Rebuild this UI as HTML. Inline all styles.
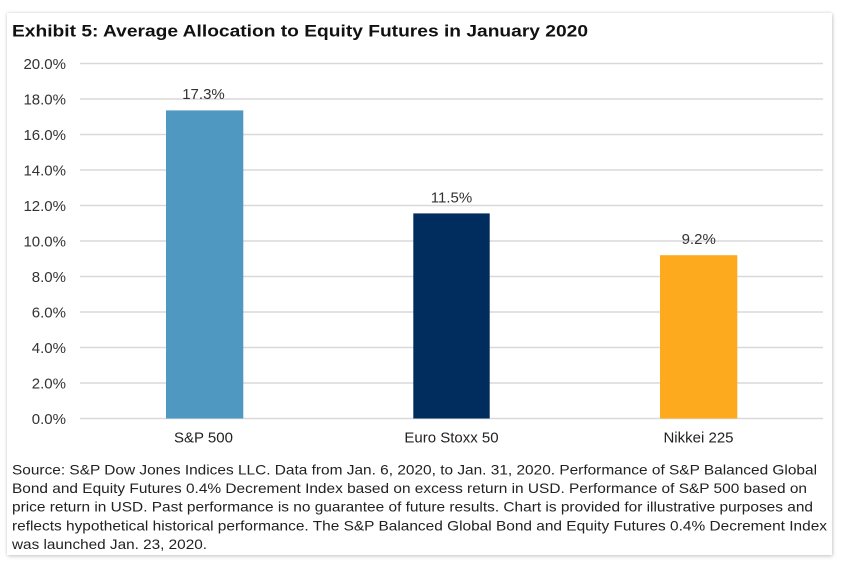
<!DOCTYPE html>
<html>
<head>
<meta charset="utf-8">
<style>
  html,body{margin:0;padding:0;background:#ffffff;}
  body{width:843px;height:568px;overflow:hidden;position:relative;}
  .card{position:absolute;left:7px;top:13px;width:825px;height:542px;background:#fff;
        box-shadow:0 0 3px rgba(0,0,0,0.18), 1px 2px 4px rgba(0,0,0,0.12);}
  svg{position:absolute;left:0;top:0;}
  text{font-family:"Liberation Sans", Arial, sans-serif;}
</style>
</head>
<body>
<div class="card"></div>
<svg width="843" height="568" viewBox="0 0 843 568" xmlns="http://www.w3.org/2000/svg">
  <!-- title -->
  <text x="12" y="36.5" font-size="16.5" font-weight="bold" fill="#111" textLength="576" lengthAdjust="spacingAndGlyphs">Exhibit 5: Average Allocation to Equity Futures in January 2020</text>

  <!-- gridlines -->
  <g stroke="#d9d9d9" stroke-width="1.4">
    <line x1="80" x2="823" y1="63.5" y2="63.5"/>
    <line x1="80" x2="823" y1="99" y2="99"/>
    <line x1="80" x2="823" y1="134.5" y2="134.5"/>
    <line x1="80" x2="823" y1="170" y2="170"/>
    <line x1="80" x2="823" y1="205.5" y2="205.5"/>
    <line x1="80" x2="823" y1="241" y2="241"/>
    <line x1="80" x2="823" y1="276.5" y2="276.5"/>
    <line x1="80" x2="823" y1="312" y2="312"/>
    <line x1="80" x2="823" y1="347.5" y2="347.5"/>
    <line x1="80" x2="823" y1="383" y2="383"/>
    <line x1="80" x2="823" y1="418.5" y2="418.5"/>
  </g>

  <!-- y tick labels -->
  <g font-size="15" fill="#333" text-anchor="end">
    <text x="66" y="69">20.0%</text>
    <text x="66" y="104.5">18.0%</text>
    <text x="66" y="140">16.0%</text>
    <text x="66" y="175.5">14.0%</text>
    <text x="66" y="211">12.0%</text>
    <text x="66" y="246.5">10.0%</text>
    <text x="66" y="282">8.0%</text>
    <text x="66" y="317.5">6.0%</text>
    <text x="66" y="353">4.0%</text>
    <text x="66" y="388.5">2.0%</text>
    <text x="66" y="424">0.0%</text>
  </g>

  <!-- bars -->
  <rect x="166" y="110.4" width="77.3" height="308.1" fill="#4f98c1"/>
  <rect x="413.3" y="213.4" width="76.4" height="205.1" fill="#002c5e"/>
  <rect x="660" y="255.2" width="77.3" height="163.3" fill="#fdaa1f"/>

  <!-- data labels -->
  <g font-size="15" fill="#333" text-anchor="middle">
    <text x="203.5" y="99">17.3%</text>
    <text x="451.5" y="202.3">11.5%</text>
    <text x="698.7" y="244">9.2%</text>
  </g>

  <!-- category labels -->
  <g font-size="15" fill="#222" text-anchor="middle">
    <text x="203.5" y="442.5">S&amp;P 500</text>
    <text x="451.5" y="442.5">Euro Stoxx 50</text>
    <text x="698.5" y="442.5">Nikkei 225</text>
  </g>

  <!-- footnote -->
  <g font-size="14" fill="#222">
    <text x="12" y="474.3" textLength="805" lengthAdjust="spacingAndGlyphs">Source: S&amp;P Dow Jones Indices LLC. Data from Jan. 6, 2020, to Jan. 31, 2020. Performance of S&amp;P Balanced Global</text>
    <text x="12" y="493" textLength="795" lengthAdjust="spacingAndGlyphs">Bond and Equity Futures 0.4% Decrement Index based on excess return in USD. Performance of S&amp;P 500 based on</text>
    <text x="12" y="511.7" textLength="801" lengthAdjust="spacingAndGlyphs">price return in USD. Past performance is no guarantee of future results. Chart is provided for illustrative purposes and</text>
    <text x="12" y="530.4" textLength="815" lengthAdjust="spacingAndGlyphs">reflects hypothetical historical performance. The S&amp;P Balanced Global Bond and Equity Futures 0.4% Decrement Index</text>
    <text x="12" y="549.2" textLength="195" lengthAdjust="spacingAndGlyphs">was launched Jan. 23, 2020.</text>
  </g>
</svg>
</body>
</html>
